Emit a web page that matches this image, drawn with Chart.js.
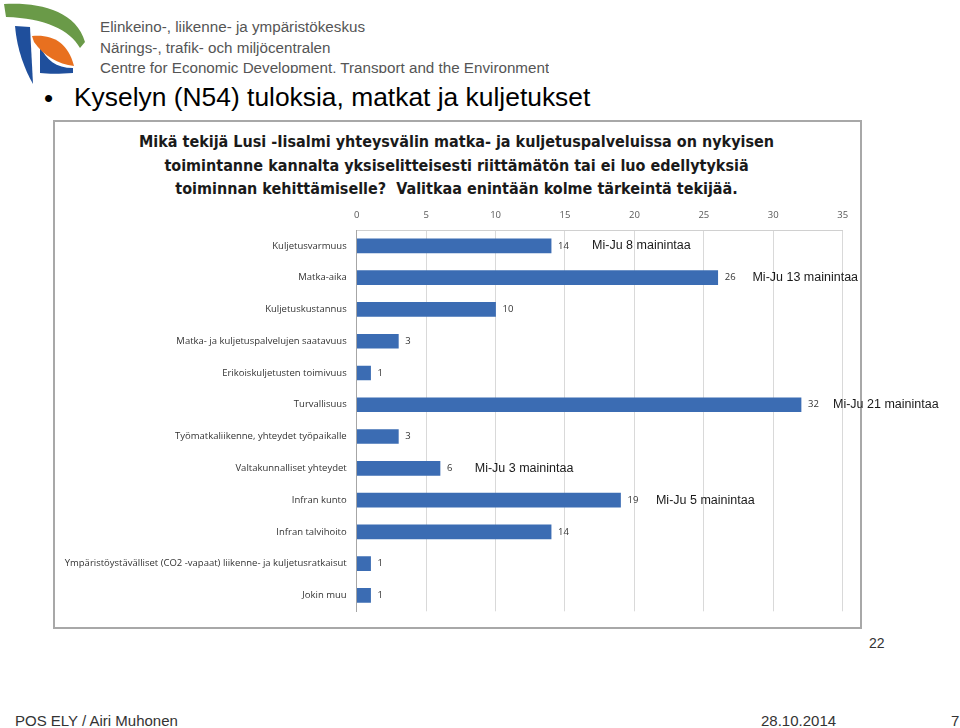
<!DOCTYPE html>
<html>
<head>
<meta charset="utf-8">
<script src="https://cdn.jsdelivr.net/npm/chart.js@4.4.1/dist/chart.umd.min.js"></script>
<style>
  html, body { margin:0; padding:0; background:#fff; }
  body { width:960px; height:728px; position:relative; overflow:hidden; font-family:"Liberation Sans", Arial, sans-serif; }
  .abs { position:absolute; white-space:nowrap; }
  #hdr { left:100px; top:17px; height:56px; overflow:hidden; color:#555; font-size:15.2px; line-height:20.5px; }
  #bullet { left:44px; top:83px; font-size:26px; color:#000; }
  #title { left:74px; top:82px; font-size:26.4px; color:#000; }
  #box { left:53px; top:120px; width:805px; height:505px; border:2px solid #a8a8a8; }
  #ctitle { left:53px; top:130px; width:807px; text-align:center; font-family:"Liberation Sans Narrow","DejaVu Sans Condensed",sans-serif; font-weight:bold; font-size:16px; line-height:23.5px; color:#1a1a1a; }
  #cv { left:53px; top:200px; }
  #num22 { left:869px; top:635px; font-size:14px; color:#333; }
  .foot { top:712px; font-size:15px; color:#333; }
</style>
</head>
<body>
<svg class="abs" style="left:0;top:0" width="90" height="90" viewBox="0 0 90 90">
  <path d="M4 4 C 38 2, 76 10, 85 42 L 80 48 C 70 30, 45 18, 6 17 Z" fill="#6a9a48"/>
  <path d="M15 26 L 30 27 L 33 84 C 25 70, 17 50, 15 26 Z" fill="#1f4f9c"/>
  <path d="M40 46 C 46 60, 56 68, 73 68 L 73 73 C 60 74, 48 74, 40 73 Z" fill="#1f4f9c"/>
  <path d="M32 36 C 52 34, 68 42, 74 66 C 58 64, 44 56, 34 42 Z" fill="#e8701f"/>
</svg>
<div id="hdr" class="abs">Elinkeino-, liikenne- ja ympäristökeskus<br>Närings-, trafik- och miljöcentralen<br>Centre for Economic Development, Transport and the Environment</div>
<div id="bullet" class="abs">•</div>
<div id="title" class="abs">Kyselyn (N54) tuloksia, matkat ja kuljetukset</div>
<div id="box" class="abs"></div>
<div id="ctitle" class="abs">Mikä tekijä Lusi -Iisalmi yhteysvälin matka- ja kuljetuspalveluissa on nykyisen<br>toimintanne kannalta yksiselitteisesti riittämätön tai ei luo edellytyksiä<br>toiminnan kehittämiselle?&nbsp; Valitkaa enintään kolme tärkeintä tekijää.</div>
<canvas id="cv" class="abs" width="907" height="427"></canvas>
<div id="num22" class="abs">22</div>
<div class="abs foot" style="left:15px">POS ELY / Airi Muhonen</div>
<div class="abs foot" style="left:761px">28.10.2014</div>
<div class="abs foot" style="left:951px">7</div>
<script>
const categories = [
  "Kuljetusvarmuus",
  "Matka-aika",
  "Kuljetuskustannus",
  "Matka- ja kuljetuspalvelujen saatavuus",
  "Erikoiskuljetusten toimivuus",
  "Turvallisuus",
  "Työmatkaliikenne, yhteydet työpaikalle",
  "Valtakunnalliset yhteydet",
  "Infran kunto",
  "Infran talvihoito",
  "Ympäristöystävälliset (CO2 -vapaat) liikenne- ja kuljetusratkaisut",
  "Jokin muu"
];
const mentions = [14, 26, 10, 3, 1, 32, 3, 6, 19, 14, 1, 1];
const xTicks = [0, 5, 10, 15, 20, 25, 30, 35];
const noteTexts = ["Mi-Ju 8 mainintaa", "Mi-Ju 13 mainintaa", "Mi-Ju 21 mainintaa", "Mi-Ju 3 mainintaa", "Mi-Ju 5 mainintaa"];
const noteCategory = [0, 1, 5, 7, 8];
const noteAtValue = [16.95, 28.5, 34.3, 8.5, 21.55];

const valueLabels = {
  id: 'valueLabels',
  afterDatasetsDraw(chart) {
    const ctx = chart.ctx;
    const meta = chart.getDatasetMeta(0);
    ctx.save();
    ctx.font = '9.5px "Open Sans", sans-serif';
    ctx.fillStyle = '#333';
    ctx.textBaseline = 'middle';
    ctx.textAlign = 'left';
    meta.data.forEach((bar, i) => {
      ctx.fillText(String(mentions[i]), bar.x + 7, bar.y);
    });
    ctx.font = '12.5px "Liberation Sans", Arial, sans-serif';
    ctx.fillStyle = '#1a1a1a';
    const xs = chart.scales.x, ys = chart.scales.y;
    noteTexts.forEach((t, i) => {
      ctx.fillText(t, xs.getPixelForValue(noteAtValue[i]), ys.getPixelForValue(noteCategory[i]));
    });
    ctx.restore();
  }
};

function barFill(context) {
  const el = context.element;
  const ctx = context.chart.ctx;
  if (!el || el.y === undefined) return '#3b6cb3';
  const g = ctx.createLinearGradient(0, el.y - 7, 0, el.y + 7);
  g.addColorStop(0, '#5080c6');
  g.addColorStop(0.45, '#3a6cb4');
  g.addColorStop(1, '#2a5699');
  return g;
}

new Chart(document.getElementById('cv'), {
  type: 'bar',
  data: {
    labels: categories,
    datasets: [{
      data: mentions,
      backgroundColor: barFill,
      borderWidth: 0,
      barThickness: 14
    }]
  },
  options: {
    indexAxis: 'y',
    responsive: false,
    animation: false,
    devicePixelRatio: 1,
    layout: { padding: { top: 0, right: 117.3, bottom: 12, left: 0 } },
    plugins: { legend: { display: false }, tooltip: { enabled: false }, title: { display: false } },
    scales: {
      x: {
        position: 'top',
        min: 0, max: 35,
        afterBuildTicks(scale) { scale.ticks = xTicks.map(v => ({ value: v })); },
        afterFit(scale) { scale.height = 30; },
        ticks: { font: { size: 9.5, family: '"Open Sans", sans-serif' }, color: '#595959', padding: 9 },
        grid: { color: '#d9d9d9', drawTicks: false },
        border: { display: true, color: '#d0d0d0' }
      },
      y: {
        afterFit(scale) { scale.width = 303.7; },
        ticks: { font: { size: 9.5, family: '"Open Sans", sans-serif' }, color: '#333', padding: 10 },
        grid: { display: false, drawTicks: false },
        border: { display: true, color: '#a6a6a6' }
      }
    }
  },
  plugins: [valueLabels]
});
</script>
</body>
</html>
